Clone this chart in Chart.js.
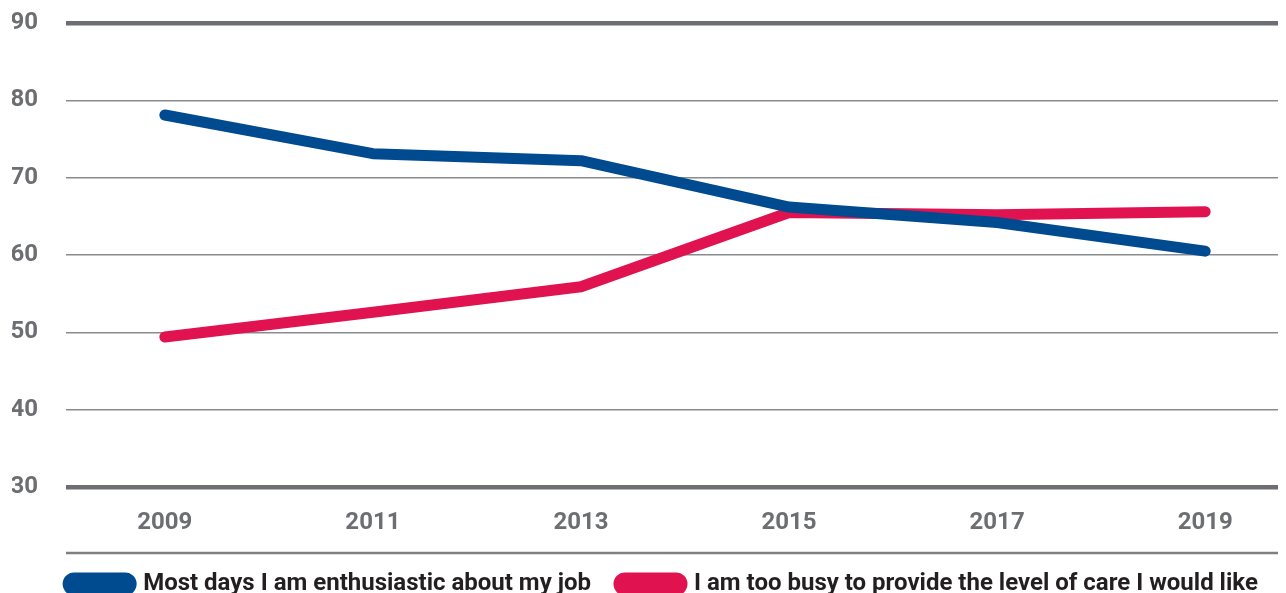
<!DOCTYPE html>
<html>
<head>
<meta charset="utf-8">
<script src="https://cdn.jsdelivr.net/npm/chart.js@4"></script>
<style>
  html, body { margin: 0; padding: 0; background: #fff; }
  #wrap { width: 1286px; height: 593px; }
</style>
</head>
<body>
<div id="wrap"><canvas id="chart"></canvas></div>
<script>
// Data
const years = [2009, 2011, 2013, 2015, 2017, 2019];
const enthusiastic = [78.1, 73.1, 72.2, 66.2, 64.2, 60.5];
const tooBusy = [49.4, 52.6, 55.9, 65.5, 65.2, 65.6];
const yTicks = [30, 40, 50, 60, 70, 80, 90];

const grey = '#6d6e71';
const font = { family: 'Roboto', weight: 'bold', size: 24 };

// line under the year labels, and nudge the legend a bit to the right
const extras = {
  id: 'extras',
  afterLayout(chart) {
    chart.legend.left += 18;
    chart.legend.right += 18;
  },
  afterDraw(chart) {
    const ctx = chart.ctx;
    const area = chart.chartArea;
    const y = area.bottom + 66;
    ctx.save();
    ctx.strokeStyle = '#7f8083';
    ctx.lineWidth = 2.5;
    ctx.beginPath();
    ctx.moveTo(area.left, y);
    ctx.lineTo(area.right, y);
    ctx.stroke();
    ctx.restore();
  }
};

const ctx = document.getElementById('chart').getContext('2d');
const chart = new Chart(ctx, {
  type: 'line',
  data: {
    datasets: [
      {
        label: 'Most days I am enthusiastic about my job',
        data: years.map((x, i) => ({ x: x, y: enthusiastic[i] })),
        borderColor: '#004a8f',
        backgroundColor: '#004a8f',
        borderWidth: 11,
        borderCapStyle: 'round',
        borderJoinStyle: 'round',
        pointRadius: 0,
        tension: 0
      },
      {
        label: 'I am too busy to provide the level of care I would like',
        data: years.map((x, i) => ({ x: x, y: tooBusy[i] })),
        borderColor: '#e0124f',
        backgroundColor: '#e0124f',
        borderWidth: 11,
        borderCapStyle: 'round',
        borderJoinStyle: 'round',
        pointRadius: 0,
        tension: 0
      }
    ]
  },
  options: {
    responsive: true,
    maintainAspectRatio: false,
    animation: false,
    layout: { padding: { left: 12, right: 8, top: 23, bottom: -13 } },
    scales: {
      x: {
        type: 'linear',
        min: 2008.05,
        max: 2019.7,
        afterBuildTicks: scale => { scale.ticks = years.map(v => ({ value: v })); },
        afterFit: scale => { scale.height = 57; scale.paddingLeft = 0; scale.paddingRight = 0; },
        grid: { display: false, drawTicks: false },
        border: { display: false },
        ticks: {
          padding: 22,
          color: grey,
          font: font,
          callback: v => String(v)
        }
      },
      y: {
        min: 30,
        max: 90,
        afterBuildTicks: scale => { scale.ticks = yTicks.map(v => ({ value: v })); },
        afterFit: scale => { scale.width = 54; scale.paddingTop = 0; scale.paddingBottom = 0; },
        border: { display: false },
        grid: {
          drawTicks: false,
          color: c => (c.tick && (c.tick.value === 90 || c.tick.value === 30)) ? grey : '#8a8b8d',
          lineWidth: c => (c.tick && (c.tick.value === 90 || c.tick.value === 30)) ? 4.5 : 1.5
        },
        ticks: {
          padding: 28,
          color: grey,
          font: font
        }
      }
    },
    plugins: {
      tooltip: { enabled: false },
      legend: {
        position: 'bottom',
        labels: {
          boxWidth: 63,
          boxHeight: 12,
          useBorderRadius: true,
          borderRadius: 6,
          padding: 28,
          color: '#231f20',
          font: font
        }
      }
    }
  },
  plugins: [extras]
});
</script>
</body>
</html>
